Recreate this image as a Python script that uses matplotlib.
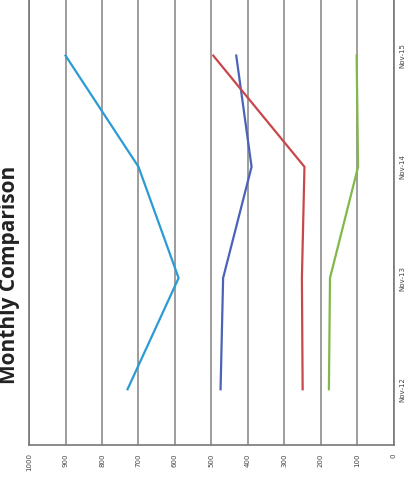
import matplotlib.pyplot as plt

# chart is shown rotated 90 degrees (values run right-to-left, months bottom-to-top)
months = ['Nov-12', 'Nov-13', 'Nov-14', 'Nov-15']
series_light_blue = [730, 590, 700, 900]
series_dark_blue = [475, 468, 390, 432]
series_red = [250, 252, 245, 495]
series_green = [178, 175, 98, 102]
value_ticks = [0, 100, 200, 300, 400, 500, 600, 700, 800, 900, 1000]

colors = ['#2a9bd4', '#4a63b8', '#c8474a', '#82b84a']

fig = plt.figure(figsize=(4.15, 4.91), dpi=100)
ax = fig.add_axes([0.07, 0.094, 0.879, 0.906])

pos = list(range(len(months)))
for vals, c in zip([series_light_blue, series_dark_blue, series_red, series_green], colors):
    ax.plot(vals, pos, color=c, linewidth=1.6)

ax.set_xlim(1000, 0)
ax.set_ylim(-0.5, len(months) - 0.5)
ax.set_xticks(value_ticks)
ax.set_xticklabels([str(v) for v in value_ticks], rotation=90, fontsize=5, color='#444444')
ax.set_yticks(pos)
ax.set_yticklabels(months, rotation=90, fontsize=5, va='center', color='#444444')
ax.yaxis.tick_right()
ax.tick_params(axis='x', length=0, pad=6)
ax.tick_params(axis='y', length=0, pad=4)

ax.grid(axis='x', color='#8c8c8c', linewidth=1.2)
ax.set_axisbelow(True)
ax.spines['top'].set_visible(False)
for s in ['left', 'bottom', 'right']:
    ax.spines[s].set_color('#777777')
    ax.spines[s].set_linewidth(1.2)

fig.text(0.024, 0.44, 'Monthly Comparison', rotation=90, fontsize=15,
         fontweight='bold', family='Open Sans', ha='center', va='center', color='#222222')

plt.savefig('out.png', dpi=100)
